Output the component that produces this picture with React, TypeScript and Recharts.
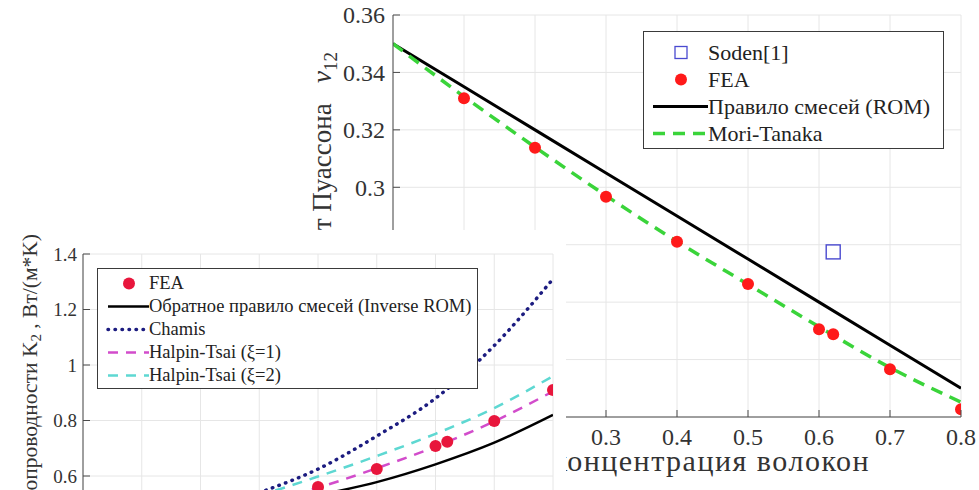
import React from 'react'
import { ComposedChart, Line, Scatter, XAxis, YAxis, CartesianGrid, Legend, Label } from 'recharts'

// Poisson's ratio nu12 vs fibre volume fraction
const VF = [0, 0.1, 0.2, 0.3, 0.4, 0.5, 0.6, 0.7, 0.8]
const NU_ROM = [0.35, 0.335, 0.32, 0.305, 0.29, 0.275, 0.26, 0.245, 0.23]
const NU_MORI_TANAKA = [0.35, 0.3316, 0.314, 0.2971, 0.2811, 0.2662, 0.2514, 0.2372, 0.2252]
const NU_FEA_VF = [0.1, 0.2, 0.3, 0.4, 0.5, 0.6, 0.62, 0.7, 0.8]
const NU_FEA = [0.331, 0.3138, 0.2967, 0.281, 0.2663, 0.2506, 0.2488, 0.2366, 0.2227]
const NU_SODEN_VF = [0.62]
const NU_SODEN = [0.2775]

// transverse thermal conductivity K2, W/(m*K)
const K_INV_ROM = [0.38, 0.41, 0.44, 0.48, 0.53, 0.578, 0.642, 0.72, 0.82]
const K_CHAMIS = [0.38, 0.42, 0.47, 0.54, 0.625, 0.744, 0.88, 1.07, 1.31]
const K_HT1 = [0.38, 0.41, 0.45, 0.5, 0.558, 0.628, 0.706, 0.797, 0.905]
const K_HT2 = [0.38, 0.425, 0.475, 0.53, 0.598, 0.672, 0.752, 0.845, 0.96]
const K_FEA_VF = [0.1, 0.2, 0.3, 0.4, 0.5, 0.6, 0.62, 0.7, 0.8]
const K_FEA = [0.4, 0.44, 0.49, 0.56, 0.625, 0.708, 0.723, 0.798, 0.91]

const VF_TICKS = [0, 0.1, 0.2, 0.3, 0.4, 0.5, 0.6, 0.7, 0.8]
const NU_TICKS = [0.22, 0.24, 0.26, 0.28, 0.3, 0.32, 0.34, 0.36]
const K_TICKS = [0.2, 0.4, 0.6, 0.8, 1, 1.2, 1.4]

const FONT = '"Liberation Serif", "Times New Roman", serif'
const AXIS = '#4a4a4a'
const GRID = '#e6e6e6'
const TXT = '#333'

const FEA_RED = '#ff1a1a'
const FEA_CRIMSON = '#e8163c'
const SODEN_BLUE = '#4a4ad0'
const MT_GREEN = '#3ad43a'
const CHAMIS_NAVY = '#1c1c80'
const HT1_MAGENTA = '#d24ccb'
const HT2_CYAN = '#5ed8d2'

const pts = (xs: number[], ys: number[]) => xs.map((x, i) => ({ x, y: ys[i] }))
const fmt = (v: number) => String(Number(v.toFixed(2)))

// MATLAB-style ticks: marks point into the plot box
const bottomTick = (fontSize: number, dy: number) => (p: any) => (
  <g>
    <line x1={p.x} y1={p.y} x2={p.x} y2={p.y - 7} stroke={AXIS} />
    <text x={p.x} y={p.y + dy} textAnchor="middle" fontSize={fontSize} fontFamily={FONT} fill={TXT}>
      {fmt(p.payload.value)}
    </text>
  </g>
)
const leftTick = (fontSize: number, dx: number) => (p: any) => (
  <g>
    <line x1={p.x} y1={p.y} x2={p.x + 7} y2={p.y} stroke={AXIS} />
    <text x={p.x - dx} y={p.y} dy="0.35em" textAnchor="end" fontSize={fontSize} fontFamily={FONT} fill={TXT}>
      {fmt(p.payload.value)}
    </text>
  </g>
)
const topMark = (p: any) => <line x1={p.x} y1={p.y} x2={p.x} y2={p.y + 7} stroke={AXIS} />
const rightMark = (p: any) => <line x1={p.x} y1={p.y} x2={p.x - 7} y2={p.y} stroke={AXIS} />

type LegendItem = { name: string; kind: 'square' | 'dot' | 'line'; color: string; dash?: string; width?: number; cap?: 'round' }

function LegendBox({ items, width, rowH, padTop, padBottom, sampleW, lineFrom, markX, fontSize }: {
  items: LegendItem[]; width: number; rowH: number; padTop: number; padBottom: number
  sampleW: number; lineFrom: number; markX: number; fontSize: number
}) {
  return (
    <div style={{
      width, boxSizing: 'border-box', border: '1px solid #3a3a3a', background: '#fff',
      paddingTop: padTop, paddingBottom: padBottom, fontFamily: FONT, fontSize, color: '#222',
    }}>
      {items.map((it) => (
        <div key={it.name} style={{ display: 'flex', alignItems: 'center', height: rowH, whiteSpace: 'nowrap' }}>
          <svg width={sampleW} height={rowH} style={{ flex: 'none' }}>
            {it.kind === 'square' && (
              <rect x={markX - 6} y={rowH / 2 - 6} width={12} height={12} fill="none" stroke={it.color} strokeWidth={1.3} />
            )}
            {it.kind === 'dot' && <circle cx={markX} cy={rowH / 2} r={6} fill={it.color} />}
            {it.kind === 'line' && (
              <line x1={lineFrom} y1={rowH / 2} x2={sampleW} y2={rowH / 2} stroke={it.color} strokeWidth={it.width}
                strokeDasharray={it.dash} strokeLinecap={it.cap ?? 'butt'} />
            )}
          </svg>
          <span>{it.name}</span>
        </div>
      ))}
    </div>
  )
}

const NU_LEGEND: LegendItem[] = [
  { name: 'Soden[1]', kind: 'square', color: SODEN_BLUE },
  { name: 'FEA', kind: 'dot', color: FEA_RED },
  { name: 'Правило смесей (ROM)', kind: 'line', color: '#000', width: 3 },
  { name: 'Mori-Tanaka', kind: 'line', color: MT_GREEN, dash: '12 8', width: 3.5 },
]

const K_LEGEND: LegendItem[] = [
  { name: 'FEA', kind: 'dot', color: FEA_CRIMSON },
  { name: 'Обратное правило смесей (Inverse ROM)', kind: 'line', color: '#000', width: 2.5 },
  { name: 'Chamis', kind: 'line', color: CHAMIS_NAVY, dash: '0.5 6.5', width: 3.5, cap: 'round' },
  { name: 'Halpin-Tsai (ξ=1)', kind: 'line', color: HT1_MAGENTA, dash: '10 8', width: 2.5 },
  { name: 'Halpin-Tsai (ξ=2)', kind: 'line', color: HT2_CYAN, dash: '10 8', width: 2.5 },
]

const NuYTitle = () => (
  <text transform="rotate(-90 331 52)" x={331} y={52} textAnchor="end" fontSize={27} fontFamily={FONT} fill={TXT}>
    {'Коэффициент Пуассона\u00A0\u00A0\u00A0'}
    <tspan fontStyle="italic">ν</tspan>
    <tspan fontSize={19} dy={6}>12</tspan>
  </text>
)

const NuXTitle = () => (
  <text x={870} y={471} textAnchor="end" fontSize={30} letterSpacing={1.5} fontFamily={FONT} fill={TXT}>
    Объемная концентрация волокон
  </text>
)

const KYTitle = () => (
  <text transform="rotate(-90 37 4)" x={37} y={4} textAnchor="end" fontSize={21.5} fontFamily={FONT} fill={TXT}>
    Коэффициент теплопроводности K<tspan fontSize={15} dy={4}>2</tspan>
    <tspan dy={-4}> , Вт/(м*K)</tspan>
  </text>
)

const KXTitle = () => (
  <text x={318} y={400} textAnchor="middle" fontSize={22} fontFamily={FONT} fill={TXT}>
    Объемная концентрация волокон
  </text>
)

function PoissonChart() {
  return (
    <ComposedChart width={979} height={490} margin={{ top: 15, right: 18, bottom: 33, left: 333 }}>
      <CartesianGrid stroke={GRID} />
      <XAxis dataKey="x" type="number" domain={[0, 0.8]} ticks={VF_TICKS} interval={0} height={40}
        tickSize={0} tickMargin={0} stroke={AXIS} tick={bottomTick(24, 28)} allowDataOverflow
        label={<Label content={NuXTitle} />} />
      <YAxis type="number" domain={[0.22, 0.36]} ticks={NU_TICKS} interval={0} width={60}
        tickSize={0} tickMargin={0} stroke={AXIS} tick={leftTick(24, 8)} allowDataOverflow
        label={<Label content={NuYTitle} />} />
      <XAxis xAxisId="top" orientation="top" dataKey="x" type="number" domain={[0, 0.8]} ticks={VF_TICKS}
        interval={0} height={0} tickSize={0} tickMargin={0} stroke={AXIS} tick={topMark} allowDataOverflow />
      <YAxis yAxisId="right" orientation="right" type="number" domain={[0.22, 0.36]} ticks={NU_TICKS}
        interval={0} width={0} tickSize={0} tickMargin={0} stroke={AXIS} tick={rightMark} allowDataOverflow />
      <Legend layout="vertical" align="center" verticalAlign="middle" wrapperStyle={{ left: 643, top: 31, width: 301 }}
        content={() => (
          <LegendBox items={NU_LEGEND} width={301} rowH={27} padTop={7} padBottom={1} sampleW={64} lineFrom={9} markX={37} fontSize={22} />
        )} />
      <Scatter name="Soden[1]" data={pts(NU_SODEN_VF, NU_SODEN)} dataKey="y" isAnimationActive={false}
        shape={(p: any) => <rect x={p.cx - 7} y={p.cy - 7} width={14} height={14} fill="none" stroke={SODEN_BLUE} strokeWidth={1.4} />} />
      <Scatter name="FEA" data={pts(NU_FEA_VF, NU_FEA)} dataKey="y" isAnimationActive={false}
        shape={(p: any) => <circle cx={p.cx} cy={p.cy} r={6} fill={FEA_RED} />} />
      <Line name="Правило смесей (ROM)" data={pts(VF, NU_ROM)} dataKey="y" type="linear" stroke="#000"
        strokeWidth={3} dot={false} isAnimationActive={false} />
      <Line name="Mori-Tanaka" data={pts(VF, NU_MORI_TANAKA)} dataKey="y" type="monotone" stroke={MT_GREEN}
        strokeWidth={3.5} strokeDasharray="12 8" dot={false} isAnimationActive={false} />
    </ComposedChart>
  )
}

function ConductivityChart() {
  return (
    <ComposedChart width={566} height={417} margin={{ top: 24, right: 13, bottom: 20, left: 33 }}>
      <CartesianGrid stroke={GRID} />
      <XAxis dataKey="x" type="number" domain={[0, 0.8]} ticks={VF_TICKS} interval={0} height={40}
        tickSize={0} tickMargin={0} stroke={AXIS} tick={bottomTick(19, 22)} allowDataOverflow
        label={<Label content={KXTitle} />} />
      <YAxis type="number" domain={[0.2, 1.4]} ticks={K_TICKS} interval={0} width={50}
        tickSize={0} tickMargin={0} stroke={AXIS} tick={leftTick(19, 6)} allowDataOverflow
        label={<Label content={KYTitle} />} />
      <XAxis xAxisId="top" orientation="top" dataKey="x" type="number" domain={[0, 0.8]} ticks={VF_TICKS}
        interval={0} height={0} tickSize={0} tickMargin={0} stroke={AXIS} tick={topMark} allowDataOverflow />
      <YAxis yAxisId="right" orientation="right" type="number" domain={[0.2, 1.4]} ticks={K_TICKS}
        interval={0} width={0} tickSize={0} tickMargin={0} stroke={AXIS} tick={rightMark} allowDataOverflow />
      <Legend layout="vertical" align="center" verticalAlign="middle" wrapperStyle={{ left: 97, top: 38, width: 381 }}
        content={() => (
          <LegendBox items={K_LEGEND} width={381} rowH={23} padTop={3} padBottom={1} sampleW={51} lineFrom={10} markX={31} fontSize={18.5} />
        )} />
      <Line name="Обратное правило смесей (Inverse ROM)" data={pts(VF, K_INV_ROM)} dataKey="y" type="monotone"
        stroke="#000" strokeWidth={2.5} dot={false} isAnimationActive={false} />
      <Line name="Chamis" data={pts(VF, K_CHAMIS)} dataKey="y" type="monotone" stroke={CHAMIS_NAVY}
        strokeWidth={3.5} strokeDasharray="0.5 6.5" strokeLinecap="round" dot={false} isAnimationActive={false} />
      <Line name="Halpin-Tsai (ξ=2)" data={pts(VF, K_HT2)} dataKey="y" type="monotone" stroke={HT2_CYAN}
        strokeWidth={2.5} strokeDasharray="10 8" dot={false} isAnimationActive={false} />
      <Line name="Halpin-Tsai (ξ=1)" data={pts(VF, K_HT1)} dataKey="y" type="monotone" stroke={HT1_MAGENTA}
        strokeWidth={2.5} strokeDasharray="10 8" dot={false} isAnimationActive={false} />
      <Scatter name="FEA" data={pts(K_FEA_VF, K_FEA)} dataKey="y" isAnimationActive={false}
        shape={(p: any) => <circle cx={p.cx} cy={p.cy} r={6} fill={FEA_CRIMSON} />} />
    </ComposedChart>
  )
}

export default function App() {
  return (
    <div style={{ position: 'fixed', left: 0, top: 0, width: 979, height: 490, overflow: 'hidden', background: '#fff', fontFamily: FONT }}>
      <div style={{ position: 'absolute', left: 0, top: 0 }}>
        <PoissonChart />
      </div>
      <div style={{ position: 'absolute', left: 0, top: 230, width: 566, height: 417, background: '#fff' }}>
        <ConductivityChart />
      </div>
    </div>
  )
}
